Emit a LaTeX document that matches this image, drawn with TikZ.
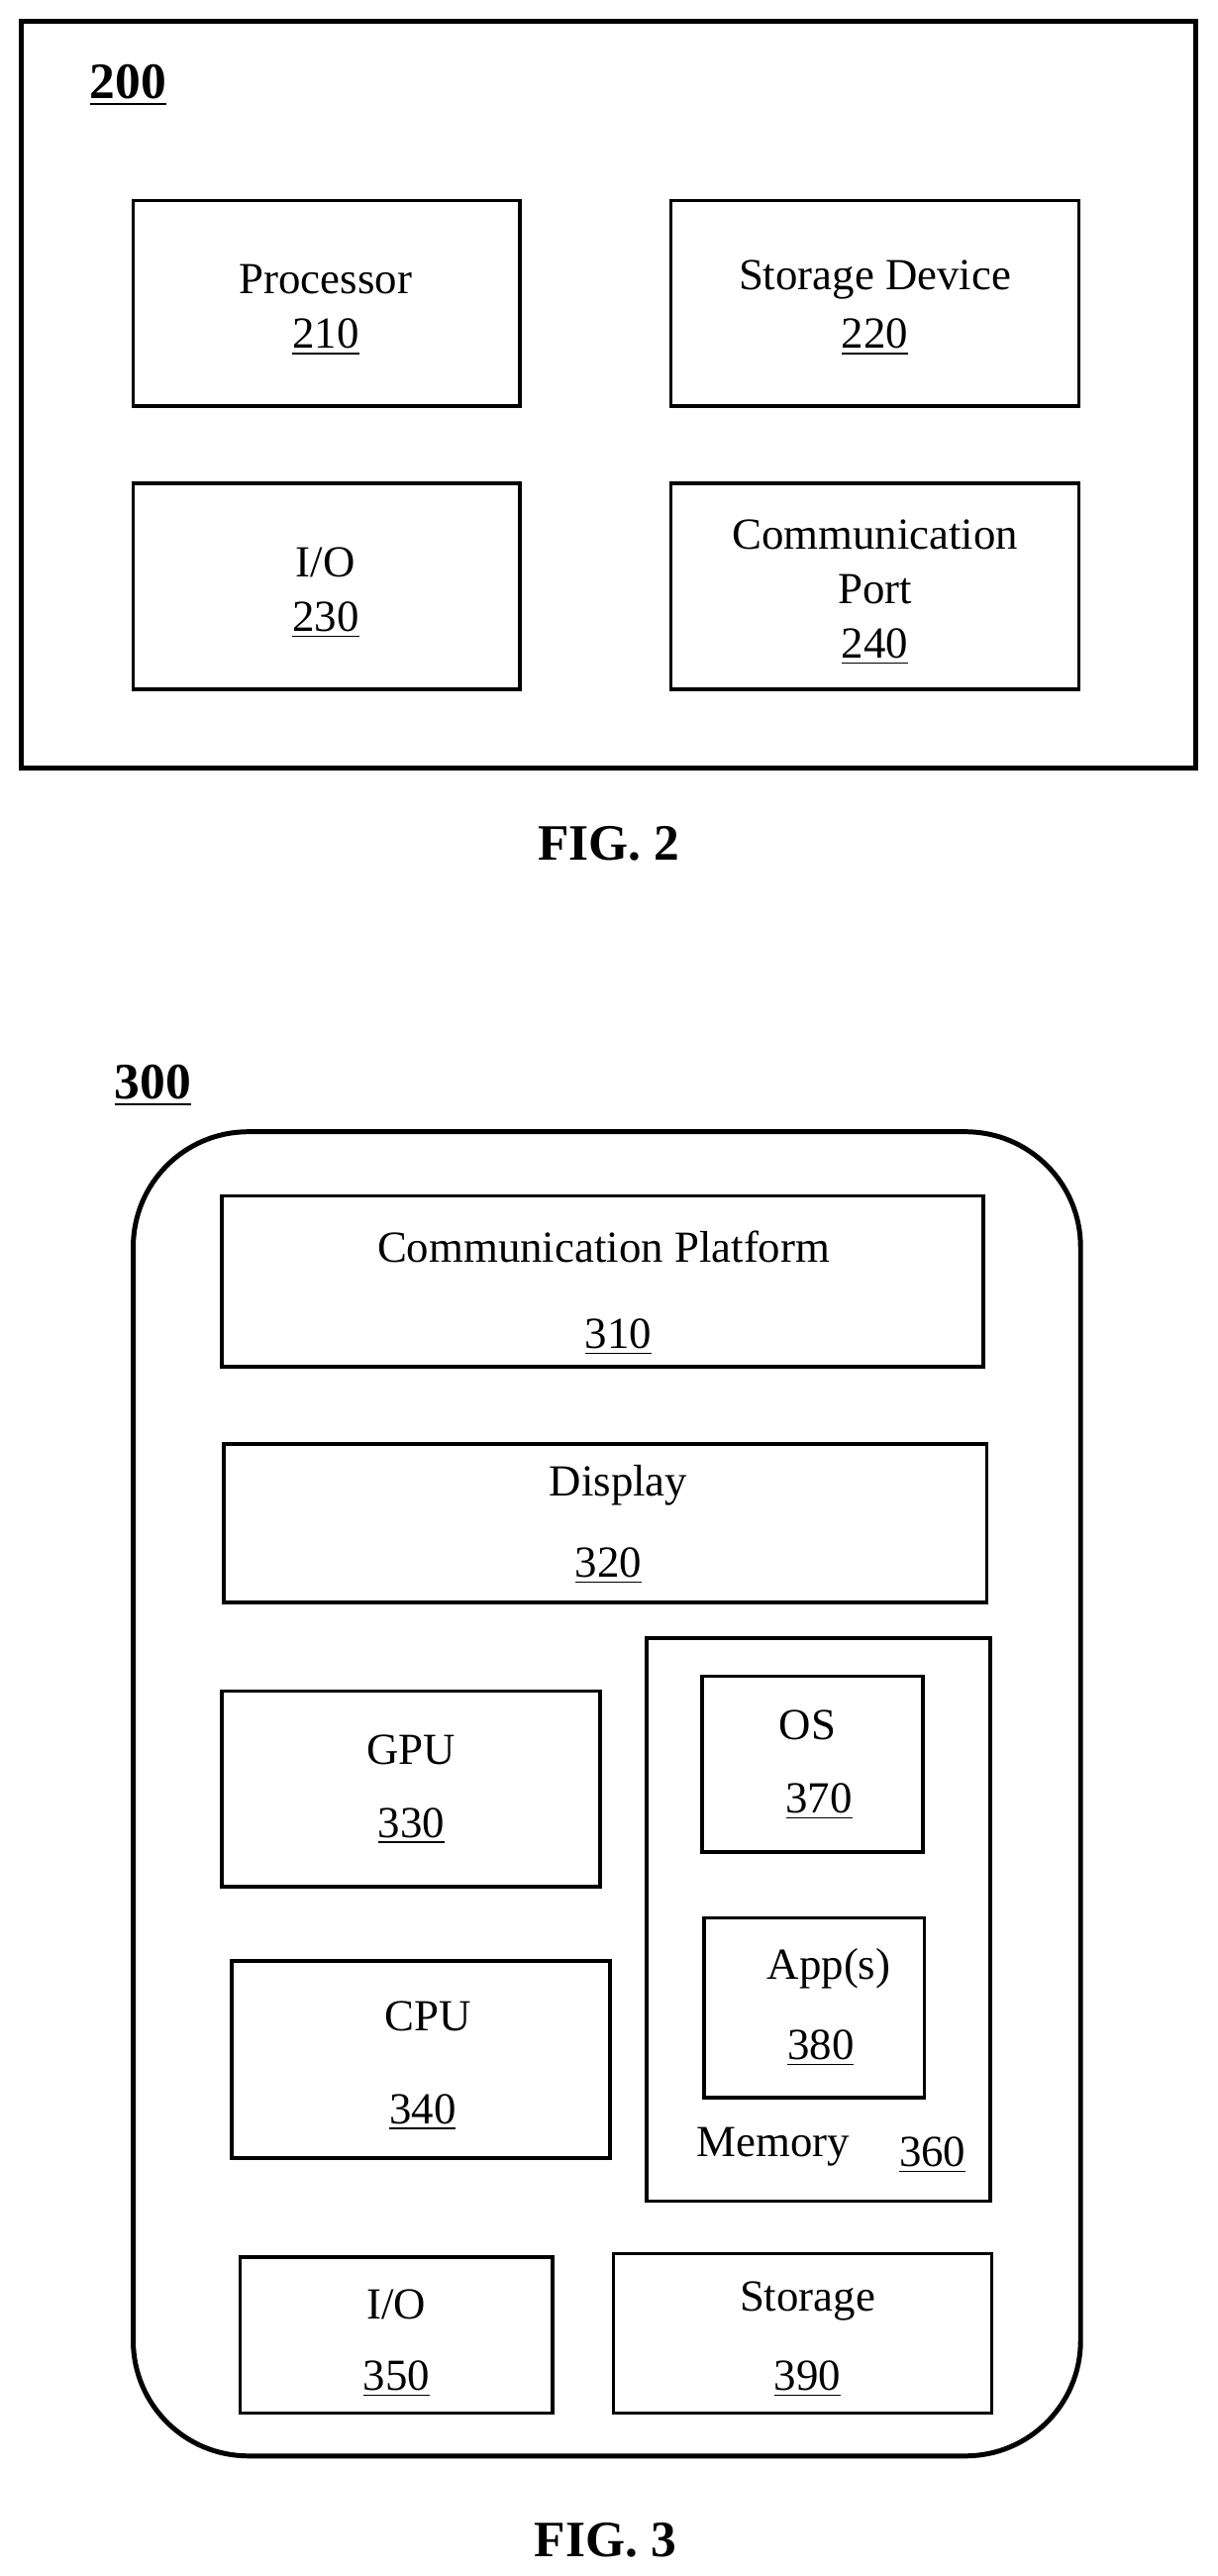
\documentclass[tikz,border=0pt]{standalone}
\usepackage{fontspec}
\setmainfont{Liberation Serif}
\begin{document}
\begin{tikzpicture}[x=0.5pt, y=-0.5pt, line width = 1pt,
                    box/.style = {draw, line width = 1.1pt, inner sep = 0pt},
                    txt/.style = {font = \fontsize{13.5}{15}\selectfont, inner sep = 0pt},
                    tag/.style = {font = \fontsize{15.5}{17}\selectfont\bfseries, inner sep = 0pt}]
      \useasboundingbox (0, 0) rectangle (740, 1566);
      % FIG. 2
      \draw [line width = 1.5pt] (13, 13) rectangle (727, 467);
      \node [tag] (l200) at (78, 52) {\underline{200}};
      \node [box, minimum width = 117.5pt, minimum height = 62.5pt] (proc) at (198.5, 184.5) {};
      \node [box, minimum width = 124pt, minimum height = 62.5pt] (stor) at (532, 184.5) {};
      \node [box, minimum width = 117.5pt, minimum height = 62.5pt] (io) at (198.5, 356.5) {};
      \node [box, minimum width = 124pt, minimum height = 62.5pt] (port) at (532, 356.5) {};
      \node [txt] at (198, 170) {Processor};
      \node [txt] at (198, 205) {\underline{210}};
      \node [txt] at (532, 170) {Storage Device};
      \node [txt] at (532, 205) {\underline{220}};
      \node [txt] at (198, 342) {I/O};
      \node [txt] at (198, 377) {\underline{230}};
      \node [txt] at (532, 325) {Communication};
      \node [txt] at (532, 358) {Port};
      \node [txt] at (532, 393) {\underline{240}};
      \node [tag] (fig2) at (370, 513) {FIG. 2};
      % FIG. 3
      \node [tag] (l300) at (93, 660) {\underline{300}};
      \draw [line width = 1.5pt, rounded corners = 35pt] (81, 688) rectangle (657, 1493);
      \node [box, minimum width = 231.5pt, minimum height = 52pt] (plat) at (366.5, 779) {};
      \node [box, minimum width = 232pt, minimum height = 48pt] (disp) at (368, 926) {};
      \node [box, minimum width = 115pt, minimum height = 59.5pt] (gpu) at (250, 1087.5) {};
      \node [box, minimum width = 115pt, minimum height = 60pt] (cpu) at (256, 1252) {};
      \node [box, minimum width = 104.5pt, minimum height = 171pt] (mem) at (497.5, 1167) {};
      \node [box, minimum width = 67pt, minimum height = 53.5pt] (os) at (494, 1072.5) {};
      \node [box, minimum width = 67pt, minimum height = 54.5pt] (app) at (495, 1220.5) {};
      \node [box, minimum width = 95pt, minimum height = 47.5pt] (io3) at (241, 1419.5) {};
      \node [box, minimum width = 115pt, minimum height = 48.5pt] (stor3) at (488, 1418.5) {};
      \node [txt] at (367, 758) {Communication Platform};
      \node [txt] at (376, 813) {\underline{310}};
      \node [txt] at (376, 903) {Display};
      \node [txt] at (370, 952) {\underline{320}};
      \node [txt] at (250, 1064) {GPU};
      \node [txt] at (250, 1110) {\underline{330}};
      \node [txt] at (260, 1226) {CPU};
      \node [txt] at (257, 1284) {\underline{340}};
      \node [txt] at (491, 1049) {OS};
      \node [txt] at (498, 1095) {\underline{370}};
      \node [txt] at (504, 1197) {App(s)};
      \node [txt] at (499, 1245) {\underline{380}};
      \node [txt] at (470, 1305) {Memory};
      \node [txt] at (567, 1310) {\underline{360}};
      \node [txt] at (241, 1401) {I/O};
      \node [txt] at (241, 1446) {\underline{350}};
      \node [txt] at (491, 1399) {Storage};
      \node [txt] at (491, 1446) {\underline{390}};
      \node [tag] (fig3) at (368, 1544) {FIG. 3};
\end{tikzpicture}
\end{document}
